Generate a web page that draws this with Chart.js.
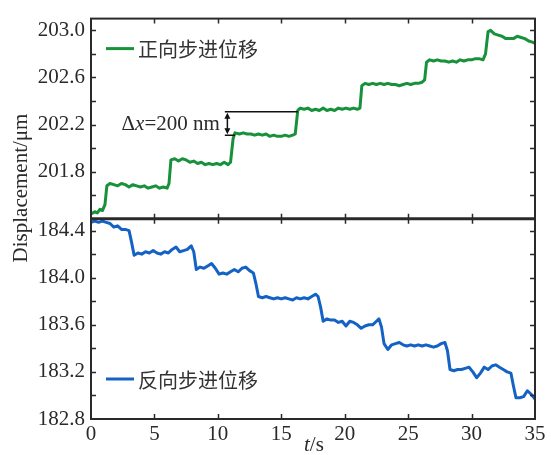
<!DOCTYPE html>
<html>
<head>
<meta charset="utf-8">
<script src="https://cdn.jsdelivr.net/npm/chart.js@4.4.1/dist/chart.umd.min.js"></script>
<style>
  html, body { margin: 0; padding: 0; background: #fff; }
  #wrap { width: 551px; height: 455px; }
</style>
</head>
<body>
<div id="wrap"><canvas id="steps" width="551" height="455"></canvas></div>
<script>
// forward stepping run (upper panel), time in s, displacement in um
const fwdTime = [0, 0.3, 0.5, 0.7, 0.9, 1.1, 1.25, 1.5, 1.8, 2.1, 2.4, 2.7, 3.0, 3.3, 3.6, 3.9, 4.2, 4.5, 4.8, 5.1, 5.4, 5.7, 6.0, 6.15,
  6.3, 6.6, 6.9, 7.2, 7.5, 7.8, 8.1, 8.4, 8.7, 9.0, 9.3, 9.6, 9.9, 10.2, 10.5, 10.8, 11.0, 11.2,
  11.35, 11.7, 12.0, 12.3, 12.6, 12.9, 13.2, 13.5, 13.8, 14.1, 14.4, 14.7, 15.0, 15.3, 15.6, 15.9, 16.1,
  16.3, 16.5, 16.8, 17.1, 17.4, 17.7, 18.0, 18.3, 18.6, 18.9, 19.2, 19.5, 19.8, 20.1, 20.4, 20.7, 21.0, 21.2,
  21.35, 21.6, 21.9, 22.2, 22.5, 22.8, 23.1, 23.4, 23.7, 24.0, 24.3, 24.6, 24.9, 25.2, 25.5, 25.8, 26.1, 26.3,
  26.45, 26.7, 27.0, 27.3, 27.6, 27.9, 28.2, 28.5, 28.8, 29.1, 29.4, 29.7, 30.0, 30.3, 30.6, 30.9, 31.1,
  31.3, 31.5, 31.8, 32.1, 32.4, 32.7, 33.0, 33.3, 33.6, 33.9, 34.2, 34.5, 34.8, 35.0];
const fwdDisp = [201.44, 201.46, 201.45, 201.48, 201.47, 201.52, 201.68, 201.70, 201.69, 201.68, 201.70, 201.69, 201.67, 201.69, 201.68, 201.67, 201.68, 201.66, 201.67, 201.68, 201.66, 201.67, 201.66, 201.70,
  201.90, 201.91, 201.89, 201.91, 201.90, 201.88, 201.89, 201.87, 201.88, 201.86, 201.87, 201.86, 201.87, 201.86, 201.88, 201.86, 201.88, 202.08,
  202.13, 202.12, 202.13, 202.12, 202.12, 202.11, 202.12, 202.11, 202.12, 202.10, 202.11, 202.10, 202.10, 202.11, 202.10, 202.11, 202.12,
  202.32, 202.34, 202.33, 202.34, 202.32, 202.33, 202.32, 202.34, 202.32, 202.33, 202.32, 202.34, 202.33, 202.34, 202.33, 202.34, 202.33, 202.34,
  202.53, 202.55, 202.54, 202.55, 202.54, 202.55, 202.54, 202.55, 202.54, 202.54, 202.53, 202.54, 202.55, 202.54, 202.55, 202.55, 202.56, 202.58,
  202.73, 202.75, 202.74, 202.75, 202.74, 202.74, 202.73, 202.74, 202.73, 202.75, 202.74, 202.75, 202.75, 202.76, 202.76, 202.75, 202.80,
  202.99, 203.00, 202.97, 202.96, 202.95, 202.93, 202.93, 202.93, 202.95, 202.94, 202.93, 202.91, 202.90, 202.89];

// reverse stepping run (lower panel)
const revTime = [0, 0.3, 0.6, 0.9, 1.2, 1.5, 1.8, 2.1, 2.4, 2.7, 3.0, 3.2,
  3.4, 3.7, 4.0, 4.3, 4.6, 4.9, 5.2, 5.5, 5.8, 6.1, 6.4, 6.7, 7.0, 7.3, 7.6, 7.9, 8.1,
  8.3, 8.6, 8.9, 9.2, 9.5, 9.8, 10.1, 10.4, 10.7, 11.0, 11.3, 11.6, 11.9, 12.2, 12.5, 12.8, 13.0,
  13.2, 13.5, 13.8, 14.1, 14.4, 14.7, 15.0, 15.3, 15.6, 15.9, 16.2, 16.5, 16.8, 17.1, 17.4, 17.7, 17.9, 18.1,
  18.3, 18.6, 18.9, 19.2, 19.5, 19.8, 20.1, 20.4, 20.7, 21.0, 21.3, 21.6, 21.9, 22.2, 22.5, 22.7, 22.9,
  23.1, 23.4, 23.7, 24.0, 24.3, 24.6, 24.9, 25.2, 25.5, 25.8, 26.1, 26.4, 26.7, 27.0, 27.3, 27.6, 27.9, 28.1,
  28.3, 28.6, 28.9, 29.2, 29.5, 29.8, 30.1, 30.4, 30.7, 31.0, 31.3, 31.6, 31.9, 32.2, 32.5, 32.8, 33.1, 33.3,
  33.5, 33.8, 34.1, 34.4, 34.7, 35.0];
const revDisp = [184.47, 184.48, 184.47, 184.48, 184.47, 184.46, 184.43, 184.44, 184.41, 184.41, 184.40, 184.30,
  184.19, 184.21, 184.20, 184.22, 184.21, 184.23, 184.21, 184.20, 184.22, 184.21, 184.24, 184.26, 184.22, 184.23, 184.24, 184.27, 184.22,
  184.07, 184.09, 184.08, 184.10, 184.12, 184.08, 184.03, 184.04, 184.03, 184.05, 184.07, 184.05, 184.08, 184.09, 184.06, 184.04, 183.95,
  183.84, 183.83, 183.84, 183.83, 183.82, 183.83, 183.82, 183.83, 183.82, 183.81, 183.83, 183.82, 183.83, 183.82, 183.84, 183.86, 183.84, 183.75,
  183.63, 183.65, 183.64, 183.64, 183.62, 183.63, 183.59, 183.63, 183.62, 183.60, 183.57, 183.59, 183.60, 183.60, 183.63, 183.65, 183.58,
  183.44, 183.39, 183.43, 183.44, 183.45, 183.43, 183.42, 183.43, 183.42, 183.43, 183.42, 183.43, 183.42, 183.41, 183.42, 183.44, 183.45, 183.38,
  183.22, 183.21, 183.22, 183.22, 183.23, 183.24, 183.20, 183.15, 183.19, 183.24, 183.22, 183.25, 183.26, 183.24, 183.22, 183.20, 183.19, 183.08,
  182.98, 182.98, 182.99, 183.04, 183.01, 182.97];

const fwdLabel = '正向步进位移';
const revLabel = '反向步进位移';
const topTicks = [201.8, 202.2, 202.6, 203.0];
const botTicks = [182.8, 183.2, 183.6, 184.0, 184.4];
const timeTicks = [0, 5, 10, 15, 20, 25, 30, 35];

// step-height marker: 200 nm = 0.2 um
const stepLow = 202.11;
const stepSize = 0.2;
const stepText = '200 nm';

const GREEN = '#17923b';
const BLUE = '#1462c4';
const INK = '#2a2a2a';
const SERIF = '"Liberation Serif", "Times New Roman", serif';
const CJK = '"Noto Sans CJK SC", sans-serif';

const toPoints = (xs, ys) => xs.map((x, i) => ({ x: x, y: ys[i] }));

function yScale(min, max, labels) {
  return {
    type: 'linear',
    position: 'left',
    stack: 'panels',
    stackWeight: 1,
    min: min,
    max: max,
    afterBuildTicks: (s) => { s.ticks = labels.map(v => ({ value: v })); },
    afterFit: (s) => { s.width = 81; },
    grid: { display: false, drawTicks: false },
    border: { display: false },
    ticks: {
      color: INK,
      padding: 6,
      autoSkip: false,
      font: { family: SERIF, size: 21 },
      callback: (v) => Number(v).toFixed(1),
    },
  };
}

// frame, inward ticks, divider, legends, marker and axis titles
const decorations = {
  id: 'decorations',
  afterDraw(chart) {
    const ctx = chart.ctx;
    const a = chart.chartArea;
    const xs = chart.scales.x;
    const panels = [
      { s: chart.scales.yTop, labels: topTicks },
      { s: chart.scales.yBot, labels: botTicks },
    ];
    ctx.save();
    ctx.strokeStyle = INK;
    ctx.lineWidth = 1.5;
    const tl = 5;
    panels.forEach(p => {
      const s = p.s;
      ctx.beginPath();
      timeTicks.forEach(t => {
        if (t <= xs.min || t >= xs.max) return;
        const px = Math.round(xs.getPixelForValue(t)) + 0.5;
        ctx.moveTo(px, s.top); ctx.lineTo(px, s.top + tl);
        ctx.moveTo(px, s.bottom); ctx.lineTo(px, s.bottom - tl);
      });
      const vals = [];
      p.labels.forEach(v => { vals.push(v, v - 0.2, v + 0.2); });
      vals.forEach(v => {
        if (v <= s.min + 1e-6 || v >= s.max - 1e-6) return;
        const py = Math.round(s.getPixelForValue(v)) + 0.5;
        ctx.moveTo(a.left, py); ctx.lineTo(a.left + tl, py);
        ctx.moveTo(a.right, py); ctx.lineTo(a.right - tl, py);
      });
      ctx.stroke();
    });

    // outer frame and panel divider
    ctx.lineWidth = 2;
    ctx.strokeRect(a.left, a.top, a.right - a.left, a.bottom - a.top);
    ctx.lineWidth = 3;
    ctx.beginPath();
    const mid = chart.scales.yTop.bottom;
    ctx.moveTo(a.left, mid); ctx.lineTo(a.right, mid);
    ctx.stroke();

    // legends inside each panel
    const legend = (label, color, y) => {
      ctx.strokeStyle = color;
      ctx.lineWidth = 3;
      ctx.beginPath();
      ctx.moveTo(a.left + 15, y); ctx.lineTo(a.left + 43, y);
      ctx.stroke();
      ctx.fillStyle = '#333';
      ctx.font = '20px ' + CJK;
      ctx.textAlign = 'left';
      ctx.textBaseline = 'middle';
      ctx.fillText(label, a.left + 47, y + 1);
    };
    legend(fwdLabel, GREEN, chart.scales.yTop.top + 30);
    legend(revLabel, BLUE, chart.scales.yBot.bottom - 40);

    // step height marker
    const yt = chart.scales.yTop;
    const yLo = yt.getPixelForValue(stepLow);
    const yHi = yt.getPixelForValue(stepLow + stepSize);
    const x0 = xs.getPixelForValue(10.55);
    const xa = xs.getPixelForValue(10.75);
    ctx.strokeStyle = '#111';
    ctx.fillStyle = '#111';
    ctx.lineWidth = 1.5;
    ctx.beginPath();
    ctx.moveTo(x0, yHi); ctx.lineTo(xs.getPixelForValue(16.3), yHi);
    ctx.moveTo(x0, yLo); ctx.lineTo(xs.getPixelForValue(11.35), yLo);
    ctx.moveTo(xa, yHi + 5); ctx.lineTo(xa, yLo - 5);
    ctx.stroke();
    ctx.beginPath();
    ctx.moveTo(xa, yHi + 1); ctx.lineTo(xa - 3, yHi + 7); ctx.lineTo(xa + 3, yHi + 7); ctx.closePath();
    ctx.moveTo(xa, yLo - 1); ctx.lineTo(xa - 3, yLo - 7); ctx.lineTo(xa + 3, yLo - 7); ctx.closePath();
    ctx.fill();

    ctx.fillStyle = INK;
    ctx.textBaseline = 'alphabetic';
    ctx.textAlign = 'left';
    const base = (yHi + yLo) / 2 + 7;
    const parts = [['Δ', ''], ['x', 'italic '], ['=' + stepText, '']];
    let w = 0;
    parts.forEach(([t, st]) => { ctx.font = st + '21px ' + SERIF; w += ctx.measureText(t).width; });
    let tx = x0 - 5 - w;
    parts.forEach(([t, st]) => {
      ctx.font = st + '21px ' + SERIF;
      ctx.fillText(t, tx, base);
      tx += ctx.measureText(t).width;
    });

    // axis titles
    ctx.font = 'italic 21px ' + SERIF;
    const tw = ctx.measureText('t').width;
    ctx.fillText('t', 304, 451);
    ctx.font = '21px ' + SERIF;
    ctx.fillText('/s', 304 + tw, 451);

    ctx.translate(21, 188);
    ctx.rotate(-Math.PI / 2);
    ctx.textAlign = 'center';
    ctx.textBaseline = 'middle';
    ctx.fillText('Displacement/μm', 0, 0);
    ctx.restore();
  },
};

new Chart(document.getElementById('steps').getContext('2d'), {
  type: 'line',
  data: {
    datasets: [
      { label: fwdLabel, data: toPoints(fwdTime, fwdDisp), yAxisID: 'yTop', borderColor: GREEN },
      { label: revLabel, data: toPoints(revTime, revDisp), yAxisID: 'yBot', borderColor: BLUE },
    ],
  },
  options: {
    responsive: false,
    devicePixelRatio: 1,
    animation: false,
    layout: { padding: { left: 10, top: 11, right: 16, bottom: 0 } },
    elements: {
      point: { radius: 0 },
      line: { borderWidth: 3, tension: 0, borderJoinStyle: 'round' },
    },
    plugins: { legend: { display: false }, tooltip: { enabled: false } },
    scales: {
      x: {
        type: 'linear',
        min: 0,
        max: 35,
        afterBuildTicks: (s) => { s.ticks = timeTicks.map(v => ({ value: v })); },
        afterFit: (s) => { s.height = 36; },
        grid: { display: false, drawTicks: false },
        border: { display: false },
        ticks: { color: INK, padding: 3, maxRotation: 0, autoSkip: false, font: { family: SERIF, size: 21 } },
      },
      yBot: yScale(182.8, 184.5, botTicks),
      yTop: yScale(201.4, 203.1, topTicks),
    },
  },
  plugins: [decorations],
});
</script>
</body>
</html>
